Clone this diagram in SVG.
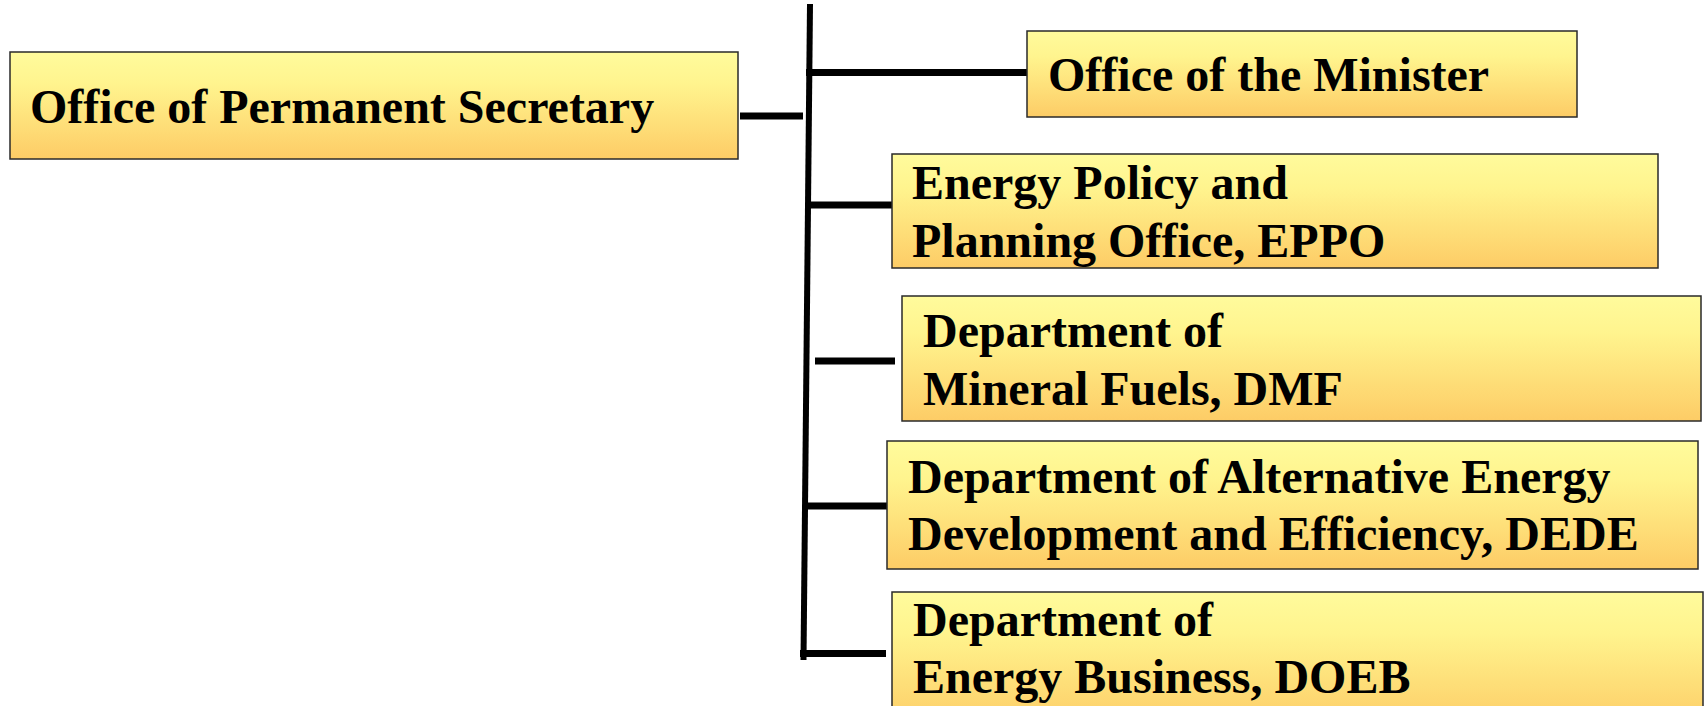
<svg xmlns="http://www.w3.org/2000/svg" width="1705" height="706" viewBox="0 0 1705 706">
<style>
.box{fill:url(#g);stroke:#2a2a2a;stroke-width:1.5}
.t{font-family:"Liberation Serif","Times New Roman",serif;font-weight:bold;font-size:48px;fill:#000}
.c{stroke:#000;stroke-width:7;fill:none;stroke-linecap:butt}
.v{stroke:#000;stroke-width:6;fill:none}
</style>
<defs>
<linearGradient id="g" x1="0" y1="0" x2="0" y2="1">
<stop offset="0" stop-color="#FFFB9C"/>
<stop offset="0.3" stop-color="#FFF48E"/>
<stop offset="1" stop-color="#FDCC66"/>
</linearGradient>
</defs>
<g id="connectors">
<line class="v" x1="810" y1="4" x2="803.5" y2="660"/>
<line class="c" x1="740" y1="116" x2="803" y2="116"/>
<line class="c" x1="806" y1="72.5" x2="1030" y2="72.5"/>
<line class="c" x1="809" y1="205" x2="892" y2="205"/>
<line class="c" x1="815" y1="361" x2="895" y2="361"/>
<line class="c" x1="806" y1="506" x2="887" y2="506"/>
<line class="c" x1="800" y1="653.5" x2="886" y2="653.5"/>
</g>
<g id="n-permsec">
<rect class="box" x="10" y="52" width="728" height="107"/>
<text class="t" x="30" y="123">Office of Permanent Secretary</text>
</g>
<g id="n-minister">
<rect class="box" x="1027" y="31" width="550" height="86"/>
<text class="t" x="1048" y="91">Office of the Minister</text>
</g>
<g id="n-eppo">
<rect class="box" x="892" y="154" width="766" height="114"/>
<text class="t" x="912" y="199">Energy Policy and</text>
<text class="t" x="912" y="257">Planning Office, EPPO</text>
</g>
<g id="n-dmf">
<rect class="box" x="902" y="296" width="799" height="125"/>
<text class="t" x="923" y="347">Department of</text>
<text class="t" x="923" y="405">Mineral Fuels, DMF</text>
</g>
<g id="n-dede">
<rect class="box" x="887" y="441" width="811" height="128"/>
<text class="t" x="908" y="493">Department of Alternative Energy</text>
<text class="t" x="908" y="550">Development and Efficiency, DEDE</text>
</g>
<g id="n-doeb">
<rect class="box" x="892" y="592" width="811" height="135"/>
<text class="t" x="913" y="636">Department of</text>
<text class="t" x="913" y="693">Energy Business, DOEB</text>
</g>
</svg>
